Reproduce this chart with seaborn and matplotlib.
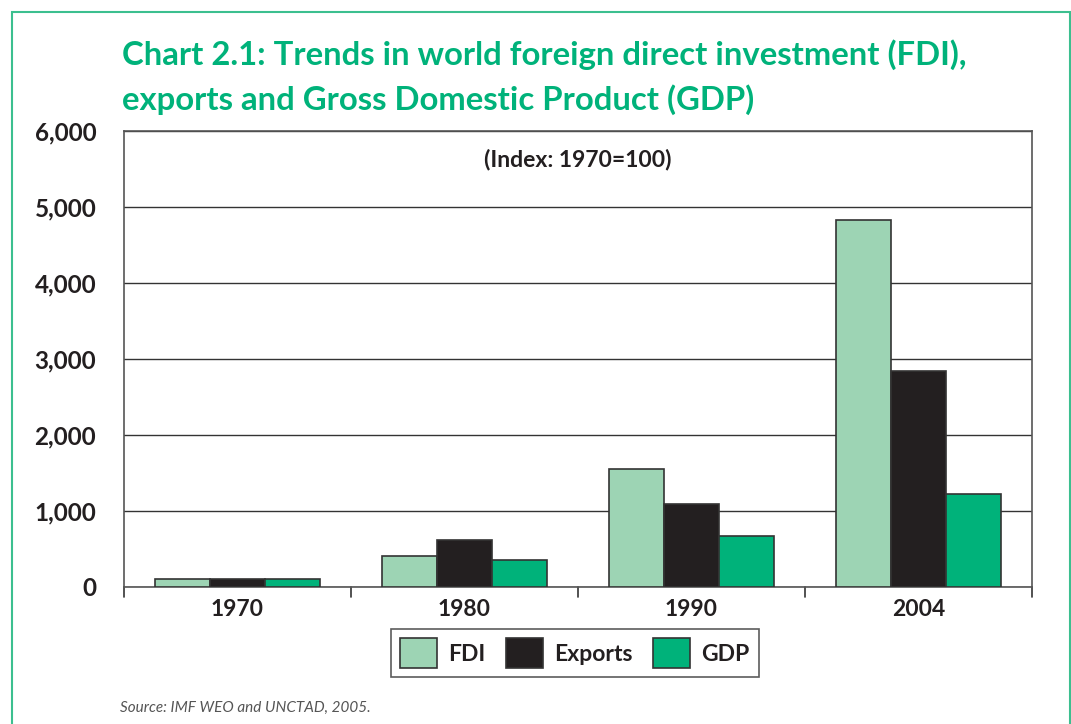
import pandas as pd
import matplotlib.pyplot as plt
import seaborn as sns
from matplotlib.patches import Rectangle

# Values (index, 1970 = 100)
years = ["1970", "1980", "1990", "2004"]
fdi = [100, 410, 1550, 4830]
exports = [100, 620, 1090, 2840]
gdp = [100, 355, 670, 1220]
series = ["FDI", "Exports", "GDP"]
colors = ["#9dd4b4", "#231f20", "#00b27a"]

df = pd.DataFrame({
    "year": years * 3,
    "series": ["FDI"] * 4 + ["Exports"] * 4 + ["GDP"] * 4,
    "value": fdi + exports + gdp,
})

sns.set_style("white")
plt.rcParams['font.family'] = ['Lato', 'DejaVu Sans']
W = "bold"

fig = plt.figure(figsize=(10.71, 7.24), dpi=100)
ax = fig.add_axes([124 / 1071, 1 - 587 / 724, (1032 - 124) / 1071, (587 - 131) / 724])

sns.barplot(data=df, x="year", y="value", hue="series", hue_order=series,
            palette=colors, width=0.73, edgecolor="#333333", linewidth=1.2,
            saturation=1, ax=ax, zorder=3)

ax.set_ylim(0, 6000)
ax.set_xlim(-0.5, 3.5)
ax.set_yticks(range(0, 6001, 1000))
ax.set_yticklabels([f"{v:,}" for v in range(0, 6001, 1000)], fontsize=17.5, fontweight=W, color="#231f20")
ax.set_xticks([0, 1, 2, 3])
ax.set_xticklabels(years, fontsize=16.5, fontweight=W, color="#231f20")
ax.tick_params(axis="x", length=0, pad=9)
ax.tick_params(axis="y", length=17, width=1, color="#333333", pad=3)
ax.set_xlabel("")
ax.set_ylabel("")
ax.yaxis.grid(True, color="#333333", linewidth=1, zorder=0)
for s in ax.spines.values():
    s.set_color("#555555")
    s.set_linewidth(1.2)

# separator ticks between the year groups
for xpos in [-0.5, 0.5, 1.5, 2.5, 3.5]:
    ax.plot([xpos, xpos], [0, -0.022], transform=ax.get_xaxis_transform(),
            color="#333333", lw=1.2, clip_on=False)

ax.text(0.5, 0.937, "(Index: 1970=100)", transform=ax.transAxes, ha="center", va="center",
        fontsize=16.5, fontweight=W, color="#231f20")

ax.legend_.remove()
handles = [Rectangle((0, 0), 1, 1, facecolor=c, edgecolor="#333333", lw=1.2) for c in colors]
leg = fig.legend(handles, series, loc="center", bbox_to_anchor=(575 / 1071, 1 - 653 / 724),
                 ncol=3, frameon=True, fancybox=False, fontsize=16.5, handlelength=1.6,
                 handleheight=1.6, columnspacing=0.9, handletextpad=0.5, borderpad=0.4)
leg.get_frame().set_edgecolor("#333333")
leg.get_frame().set_linewidth(1.2)
for t in leg.get_texts():
    t.set_fontweight(W)
    t.set_color("#231f20")

fig.text(122 / 1071, 1 - 55 / 724, "Chart 2.1: Trends in world foreign direct investment (FDI),",
         fontsize=23.7, fontweight=W, color="#00b27a", va="center")
fig.text(122 / 1071, 1 - 100 / 724, "exports and Gross Domestic Product (GDP)",
         fontsize=23.7, fontweight=W, color="#00b27a", va="center")
fig.text(120 / 1071, 1 - 708 / 724, "Source: IMF WEO and UNCTAD, 2005.",
         fontsize=11, fontstyle="italic", fontweight="normal", color="#555555", va="center")

# green frame around the panel
fig.patches.append(Rectangle((12 / 1071, -0.05), (1070 - 12) / 1071, 1.05 - 12 / 724,
                             transform=fig.transFigure, fill=False, edgecolor="#3cbf8f", lw=1.5))

fig.savefig("out.png", dpi=100)
